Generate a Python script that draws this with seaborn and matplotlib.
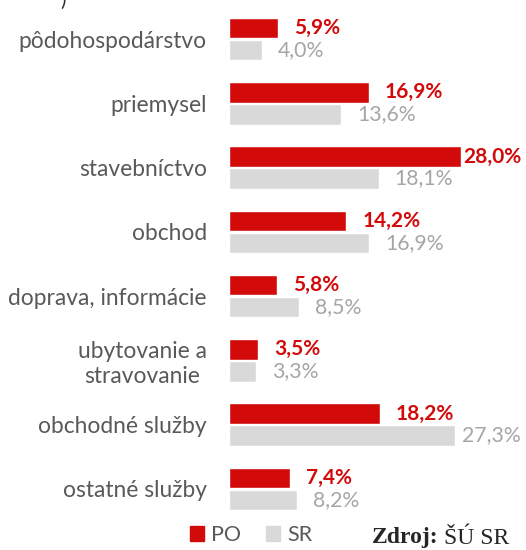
import matplotlib
matplotlib.use('Agg')
import matplotlib.pyplot as plt
import matplotlib.patches as mpatches
import seaborn as sns
import pandas as pd

categories = ['pôdohospodárstvo', 'priemysel', 'stavebníctvo', 'obchod',
              'doprava, informácie', 'ubytovanie a\nstravovanie',
              'obchodné služby', 'ostatné služby']
po_values = [5.9, 16.9, 28.0, 14.2, 5.8, 3.5, 18.2, 7.4]
sr_values = [4.0, 13.6, 18.1, 16.9, 8.5, 3.3, 27.3, 8.2]
series_names = ['PO', 'SR']

red = '#D20A0A'
grey = '#D9D9D9'
red_text = '#D20A0A'
grey_text = '#A6A6A6'
label_color = '#595959'

df = pd.DataFrame({
    'category': categories * 2,
    'value': po_values + sr_values,
    'series': [series_names[0]] * len(categories) + [series_names[1]] * len(categories),
})

sns.set_style('white')
plt.rcParams['font.family'] = ['Lato', 'DejaVu Sans']

fig = plt.figure(figsize=(5.26, 5.5), dpi=100)
ax = fig.add_axes([229 / 526, 29 / 550, 292 / 526, 514 / 550])

sns.barplot(data=df, y='category', x='value', hue='series', orient='h',
            palette=[red, grey], saturation=1, width=0.68, gap=0.06,
            ax=ax, legend=False)

ax.set_xlim(0, 35.3)
ax.set_ylim(7.5, -0.5)
ax.set_xlabel('')
ax.set_ylabel('')
ax.set_xticks([])
for s in ax.spines.values():
    s.set_visible(False)
ax.tick_params(axis='y', length=0, pad=16, labelsize=16.4, labelcolor=label_color)
for t in ax.get_yticklabels():
    t.set_multialignment('center')

# value labels
for cont, vals, col, bold in [(ax.containers[0], po_values, red_text, True),
                              (ax.containers[1], sr_values, grey_text, False)]:
    for bar, v in zip(cont.patches, vals):
        y = bar.get_y() + bar.get_height() / 2
        txt = f'{v:.1f}%'.replace('.', ',')
        kw = dict(va='center', fontsize=15.3 if not bold else 15, color=col,
                  fontweight='bold' if bold else 'normal', annotation_clip=False)
        if v > 26:
            ax.annotate(txt, xy=(1.0, y), xycoords=('axes fraction', 'data'),
                        ha='right', **kw)
        else:
            ax.annotate(txt, xy=(bar.get_width(), y), xytext=(16, 0),
                        textcoords='offset pixels', ha='left', **kw)

# legend
handles = [mpatches.Patch(color=red, label=series_names[0]),
           mpatches.Patch(color=grey, label=series_names[1])]
fig.legend(handles=handles, loc='center', bbox_to_anchor=(251 / 526, 1 - 535 / 550),
           ncol=2, frameon=False, fontsize=15.5, labelcolor=label_color,
           handlelength=0.65, handleheight=0.65, handletextpad=0.3, columnspacing=1.2)

fig.text(372 / 526, 1 - 538 / 550, 'Zdroj:', family='Liberation Serif',
         fontweight='bold', fontsize=17, va='center', ha='left')
fig.text(444 / 526, 1 - 538 / 550, 'ŠÚ SR', family='Liberation Serif',
         fontsize=17, va='center', ha='left')

fig.text(60 / 526, 1.0, ')', fontsize=15, color='#333333', va='center', ha='left')

fig.savefig('out.png', dpi=100)
